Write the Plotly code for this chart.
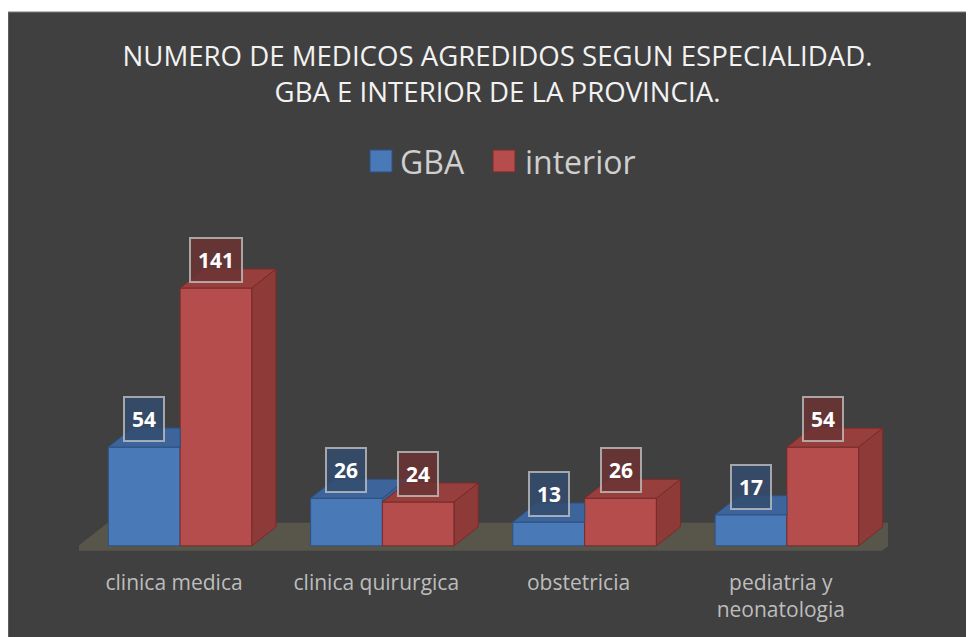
import plotly.graph_objects as go

# ---------------- data ----------------
categories = ["clinica medica", "clinica quirurgica", "obstetricia", "pediatria y<br>neonatologia"]
gba = [54, 26, 13, 17]
interior = [141, 24, 26, 54]
series_names = ["GBA", "interior"]
title_text = "NUMERO DE MEDICOS AGREDIDOS SEGUN ESPECIALIDAD.<br>GBA E INTERIOR DE LA PROVINCIA."

# ---------------- style / geometry ----------------
W = 0.355          # bar width (category units)
DX = 0.119         # 3D depth, x
DY = 10.4          # 3D depth, y (value units)
FDX, FDY = 0.178, 15.3   # floor depth
FY = -2.73         # floor front level

BLUE_FRONT, BLUE_TOP, BLUE_SIDE, BLUE_EDGE = "#4a79b7", "#3d659c", "#3a5f92", "#2d5283"
RED_FRONT, RED_TOP, RED_SIDE, RED_EDGE = "#b44d4b", "#963f3d", "#8d3a39", "#7a2b29"
PANEL = "#404040"
FLOOR = "#58554b"

FIG_W, FIG_H = 974, 637
OFF = 8            # page body offset
ML = 79 - OFF
MT = 235 - OFF
PLOT_R = 888 - OFF
PLOT_B = 555 - OFF
MR = FIG_W - PLOT_R
MB = FIG_H - PLOT_B
PW, PH = PLOT_R - ML, PLOT_B - MT
YR = [-5, 170]


def px2paper_x(px):
    return (px - OFF - ML) / PW


def px2paper_y(py):
    return (PLOT_B - (py - OFF)) / PH


idx = list(range(len(categories)))

fig = go.Figure()

# front faces (real bars)
fig.add_trace(go.Bar(x=idx, y=gba, width=W, offset=-W, name=series_names[0],
                     marker=dict(color=BLUE_FRONT, line=dict(color=BLUE_EDGE, width=1)),
                     showlegend=False, hoverinfo="y"))
fig.add_trace(go.Bar(x=idx, y=interior, width=W, offset=0, name=series_names[1],
                     marker=dict(color=RED_FRONT, line=dict(color=RED_EDGE, width=1)),
                     showlegend=False, hoverinfo="y"))


def poly_trace(polys, fill, edge):
    xs, ys = [], []
    for p in polys:
        for (a, b) in p:
            xs.append(a)
            ys.append(b)
        xs.append(p[0][0])
        ys.append(p[0][1])
        xs.append(None)
        ys.append(None)
    return go.Scatter(x=xs, y=ys, mode="lines", fill="toself", fillcolor=fill,
                      line=dict(color=edge, width=1), hoverinfo="skip", showlegend=False)


g_top, g_side, r_top, r_side = [], [], [], []
for i, vg, vi in zip(idx, gba, interior):
    # GBA top (clipped where hidden by the interior bar)
    if vi > vg:
        g_top.append([(i - W, vg), (i, vg), (i, vg + DY), (i - W + DX, vg + DY)])
    else:
        g_top.append([(i - W, vg), (i, vg), (i + DX, vg + DY), (i - W + DX, vg + DY)])
        if vg > vi:
            g_side.append([(i, vi), (i + DX, vi + DY), (i + DX, vg + DY), (i, vg)])
    r_top.append([(i, vi), (i + W, vi), (i + W + DX, vi + DY), (i + DX, vi + DY)])
    r_side.append([(i + W, 0), (i + W + DX, DY), (i + W + DX, vi + DY), (i + W, vi)])

fig.add_trace(poly_trace(g_top, BLUE_TOP, BLUE_EDGE))
if g_side:
    fig.add_trace(poly_trace(g_side, BLUE_SIDE, BLUE_EDGE))
fig.add_trace(poly_trace(r_top, RED_TOP, RED_EDGE))
fig.add_trace(poly_trace(r_side, RED_SIDE, RED_EDGE))

# value labels
annotations = []
for i, vg, vi in zip(idx, gba, interior):
    annotations.append(dict(x=i - W / 2, y=vg, xref="x", yref="y", text=f"<b>{vg}</b>",
                            showarrow=False, yshift=28, yanchor="middle",
                            font=dict(family="Open Sans", size=21, color="white"),
                            bgcolor="rgba(52,76,110,0.85)", bordercolor="rgba(200,200,200,0.75)",
                            borderwidth=2, borderpad=7))
    annotations.append(dict(x=i + W / 2, y=vi, xref="x", yref="y", text=f"<b>{vi}</b>",
                            showarrow=False, yshift=28, yanchor="middle",
                            font=dict(family="Open Sans", size=21, color="white"),
                            bgcolor="rgba(108,52,52,0.85)", bordercolor="rgba(200,200,200,0.75)",
                            borderwidth=2, borderpad=7))

# custom legend
legend_items = [(series_names[0], BLUE_FRONT, BLUE_EDGE, 370, 398),
                (series_names[1], RED_FRONT, RED_EDGE, 493, 523)]
shapes = [
    dict(type="rect", xref="paper", yref="paper", layer="below",
         x0=px2paper_x(8), x1=px2paper_x(FIG_W + 20), y0=px2paper_y(FIG_H + 20), y1=px2paper_y(12),
         fillcolor=PANEL, line=dict(color="#7a7a7a", width=1)),
]
# floor
n = len(categories)
fx0, fx1 = -0.535, n - 0.53
shapes.append(dict(type="path", xref="x", yref="y", layer="below",
                   path=f"M{fx0},{FY} L{fx1},{FY} L{fx1 + FDX},{FY + FDY} L{fx0 + FDX},{FY + FDY} Z",
                   fillcolor=FLOOR, line=dict(width=0)))
for name, col, edge, sx, tx in legend_items:
    shapes.append(dict(type="rect", xref="paper", yref="paper",
                       x0=px2paper_x(sx), x1=px2paper_x(sx + 22),
                       y0=px2paper_y(172), y1=px2paper_y(150),
                       fillcolor=col, line=dict(color=edge, width=1)))
    annotations.append(dict(x=px2paper_x(tx), y=px2paper_y(161), xref="paper", yref="paper",
                            text=name, showarrow=False, xanchor="left", yanchor="middle",
                            font=dict(family="Open Sans", size=32, color="#cfcfcf")))

fig.update_layout(
    width=FIG_W, height=FIG_H,
    margin=dict(l=ML, r=MR, t=MT, b=MB, pad=0),
    paper_bgcolor="white", plot_bgcolor="rgba(0,0,0,0)",
    barmode="overlay",
    showlegend=False,
    title=dict(text=title_text, x=489.5 / FIG_W, xref="container", xanchor="center",
               y=1 - 58 / FIG_H, yref="container", yanchor="top",
               font=dict(family="Open Sans", size=27.6, color="#f2f2f2")),
    xaxis=dict(range=[-0.5, n - 0.5], tickvals=[i - 0.03 for i in idx], ticktext=categories,
               showgrid=False, zeroline=False, showline=False, ticks="",
               tickfont=dict(family="Open Sans", size=21, color="#bdbdbd"),
               ticklabelstandoff=13),
    yaxis=dict(range=YR, visible=False, showgrid=False, zeroline=False),
    shapes=shapes,
    annotations=annotations,
)

fig.write_html("out.html")
